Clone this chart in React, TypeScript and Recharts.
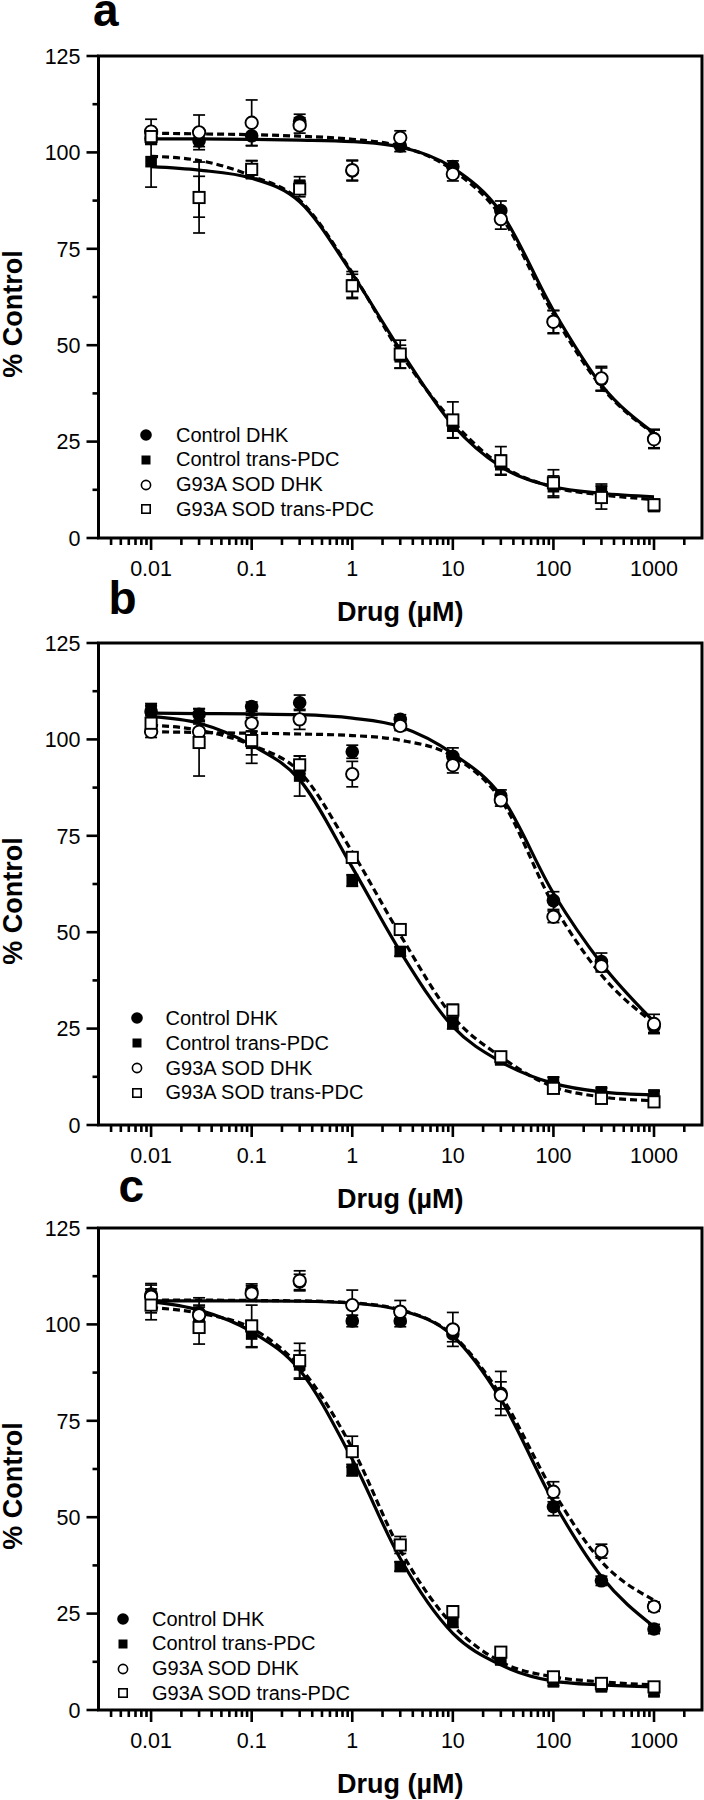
import React from 'react';
import {
  ComposedChart, Line, Scatter, XAxis, YAxis, ErrorBar, ReferenceArea, Legend,
} from 'recharts';

const FONT = '"Liberation Sans", Arial, Helvetica, sans-serif';

// concentrations (µM)
const DOSES = [0.01, 0.03, 0.1, 0.3, 1, 3, 10, 30, 100, 300, 1000];
const SERIES_NAMES = ['Control DHK', 'Control trans-PDC', 'G93A SOD DHK', 'G93A SOD trans-PDC'];

const X_MAJOR = [0.01, 0.1, 1, 10, 100, 1000];
const X_LABELS = ['0.01', '0.1', '1', '10', '100', '1000'];
const X_MINOR = [
  0.004, 0.005, 0.006, 0.007, 0.008, 0.009,
  0.02, 0.03, 0.04, 0.05, 0.06, 0.07, 0.08, 0.09,
  0.2, 0.3, 0.4, 0.5, 0.6, 0.7, 0.8, 0.9,
  2, 3, 4, 5, 6, 7, 8, 9,
  20, 30, 40, 50, 60, 70, 80, 90,
  200, 300, 400, 500, 600, 700, 800, 900,
  2000,
];
const Y_TICKS = [0, 12.5, 25, 37.5, 50, 62.5, 75, 87.5, 100, 112.5, 125];
const Y_MAJOR = [0, 25, 50, 75, 100, 125];

// ---- panel a ----
const A_CTRL_DHK = [103.6, 103.0, 104.3, 108.0, 95.2, 101.7, 96.3, 84.9, 56.0, 41.1, 25.8];
const A_CTRL_DHK_ERR = [1.5, 1.5, 2.6, 1.9, 2.6, 1.5, 1.5, 2.5, 3.0, 3.0, 2.4];
const A_CTRL_PDC = [97.6, 88.5, 95.5, 91.5, 65.6, 47.0, 29.0, 19.0, 13.3, 12.0, 8.2];
const A_CTRL_PDC_ERR = [6.6, 5.3, 2.3, 2.2, 3.5, 3.0, 3.0, 2.5, 2.8, 2.0, 1.3];
const A_SOD_DHK = [105.4, 105.2, 107.7, 107.0, 95.4, 103.8, 94.4, 82.7, 56.1, 41.4, 25.6];
const A_SOD_DHK_ERR = [3.2, 4.5, 5.9, 2.0, 2.6, 1.8, 1.8, 2.6, 2.9, 3.1, 2.4];
const A_SOD_PDC = [104.1, 88.3, 95.6, 90.5, 65.4, 47.7, 30.6, 20.0, 14.3, 10.5, 8.6];
const A_SOD_PDC_ERR = [2.0, 9.2, 2.3, 2.0, 3.0, 3.6, 4.7, 3.7, 3.4, 3.0, 1.5];
const A_FIT_CTRL_DHK = [103.5, 103.5, 103.4, 103.2, 102.8, 101.4, 96.0, 84.5, 59.0, 39.7, 27.2];
const A_FIT_SOD_DHK = [105.0, 104.8, 104.6, 104.2, 103.4, 101.6, 95.4, 83.5, 58.0, 39.2, 27.0];
const A_FIT_CTRL_PDC = [96.3, 95.4, 93.3, 87.2, 68.5, 48.8, 29.3, 18.5, 13.3, 11.6, 10.7];
const A_FIT_SOD_PDC = [99.0, 97.9, 93.9, 87.6, 68.8, 48.0, 30.2, 18.9, 13.2, 11.2, 10.0];

// ---- panel b ----
const B_CTRL_DHK = [107.2, 106.5, 108.5, 109.5, 96.8, 105.2, 95.6, 85.4, 58.2, 42.4, 25.5];
const B_CTRL_DHK_ERR = [1.5, 1.5, 1.2, 2.0, 1.7, 1.2, 2.2, 1.5, 2.3, 2.2, 1.5];
const B_CTRL_PDC = [107.8, 101.6, 99.0, 90.5, 63.4, 45.0, 26.4, 16.9, 11.2, 8.6, 7.8];
const B_CTRL_PDC_ERR = [1.5, 3.0, 3.0, 5.2, 1.5, 1.2, 1.5, 1.2, 1.2, 1.0, 1.0];
const B_SOD_DHK = [102.0, 102.0, 104.2, 105.2, 91.0, 103.5, 93.3, 84.2, 54.0, 41.2, 26.2];
const B_SOD_DHK_ERR = [1.5, 2.0, 2.0, 2.6, 3.3, 1.2, 2.0, 1.5, 1.5, 1.5, 2.5];
const B_SOD_PDC = [104.2, 99.2, 99.7, 93.4, 69.4, 50.7, 29.8, 17.7, 9.5, 6.9, 6.0];
const B_SOD_PDC_ERR = [1.5, 8.7, 5.9, 2.3, 1.2, 1.2, 1.5, 1.2, 1.2, 1.0, 1.2];
const B_FIT_CTRL_DHK = [106.8, 106.7, 106.6, 106.4, 105.5, 103.3, 96.3, 85.4, 60.1, 41.9, 26.8];
const B_FIT_SOD_DHK = [102.0, 101.8, 101.6, 101.4, 101.0, 99.8, 95.6, 84.4, 57.1, 38.9, 26.4];
const B_FIT_CTRL_PDC = [105.9, 104.2, 98.5, 89.5, 66.8, 45.0, 25.5, 16.4, 10.8, 8.6, 7.8];
const B_FIT_SOD_PDC = [103.7, 102.4, 98.5, 91.6, 70.8, 49.3, 28.1, 17.7, 9.9, 7.3, 6.3];

// ---- panel c ----
const C_CTRL_DHK = [107.9, 103.0, 108.7, 111.0, 100.9, 100.9, 97.5, 82.1, 52.7, 33.5, 21.0];
const C_CTRL_DHK_ERR = [2.3, 2.0, 1.8, 2.0, 1.5, 1.5, 2.0, 5.7, 2.3, 1.2, 1.2];
const C_CTRL_PDC = [105.9, 101.5, 97.5, 89.5, 62.2, 37.2, 22.9, 13.0, 7.3, 6.0, 4.7];
const C_CTRL_PDC_ERR = [4.7, 3.0, 3.5, 3.7, 1.5, 1.2, 1.5, 1.2, 1.0, 1.0, 1.0];
const C_SOD_DHK = [107.2, 102.4, 108.0, 111.3, 105.0, 103.3, 98.7, 81.6, 56.6, 41.2, 26.8];
const C_SOD_DHK_ERR = [2.0, 4.5, 2.0, 2.6, 3.9, 2.9, 4.4, 3.5, 2.6, 1.8, 1.2];
const C_SOD_PDC = [105.0, 99.2, 99.6, 90.6, 67.0, 42.8, 25.5, 15.0, 8.6, 6.9, 6.0];
const C_SOD_PDC_ERR = [2.0, 4.3, 5.4, 4.5, 4.0, 2.2, 1.5, 1.2, 1.0, 1.0, 1.0];
const C_FIT_CTRL_DHK = [106.1, 106.1, 106.1, 106.0, 105.5, 103.7, 97.0, 80.6, 54.0, 34.6, 21.6];
const C_FIT_SOD_DHK = [106.3, 106.3, 106.2, 106.1, 105.6, 103.8, 97.2, 81.6, 56.6, 38.5, 28.5];
const C_FIT_CTRL_PDC = [105.9, 103.7, 98.1, 88.2, 65.0, 39.3, 19.9, 11.7, 7.5, 6.5, 6.0];
const C_FIT_SOD_PDC = [104.4, 102.9, 99.0, 89.0, 67.9, 41.5, 22.0, 12.5, 8.6, 7.3, 6.5];

const pts = (vals: number[], errs: number[]) => DOSES.map((x, i) => ({ x, y: vals[i], err: errs[i] }));
const fit = (vals: number[]) => DOSES.map((x, i) => ({ x, y: vals[i] }));

const FilledCircle = (p: any) => <circle cx={p.cx} cy={p.cy} r={6.8} fill="#000" />;
const FilledSquare = (p: any) => <rect x={p.cx - 5.8} y={p.cy - 5.8} width={11.6} height={11.6} fill="#000" />;
const OpenCircle = (p: any) => <circle cx={p.cx} cy={p.cy} r={6.2} fill="#fff" stroke="#000" strokeWidth={1.9} />;
const OpenSquare = (p: any) => <rect x={p.cx - 5.6} y={p.cy - 5.6} width={11.2} height={11.2} fill="#fff" stroke="#000" strokeWidth={1.9} />;

const SHAPES = [FilledCircle, FilledSquare, OpenCircle, OpenSquare];

function XTick(props: any) {
  const { x, y, payload } = props;
  const idx = X_MAJOR.indexOf(payload.value);
  const major = idx >= 0;
  return (
    <g>
      <line x1={x} x2={x} y1={y} y2={y + (major ? 12 : 7)} stroke="#000" strokeWidth={2.6} />
      {major && (
        <text x={x} y={y + 38} textAnchor="middle" fontSize={21.5} fontFamily={FONT} fill="#000">
          {X_LABELS[idx]}
        </text>
      )}
    </g>
  );
}

function YTick(props: any) {
  const { x, y, payload } = props;
  const major = Y_MAJOR.includes(payload.value);
  return (
    <g>
      <line x1={x - (major ? 12 : 6)} x2={x} y1={y} y2={y} stroke="#000" strokeWidth={2.6} />
      {major && (
        <text x={x - 18} y={y + 7.7} textAnchor="end" fontSize={21.5} fontFamily={FONT} fill="#000">
          {payload.value}
        </text>
      )}
    </g>
  );
}

function LegendBox({ markerX, textX, top }: { markerX: number; textX: number; top: number }) {
  const ROW = 24.8;
  const icons = [
    <circle cx={7} cy={7} r={5.8} fill="#000" />,
    <rect x={2.5} y={2.5} width={9} height={9} fill="#000" />,
    <circle cx={7} cy={7} r={4.6} fill="#fff" stroke="#000" strokeWidth={1.6} />,
    <rect x={2.8} y={2.8} width={8.4} height={8.4} fill="#fff" stroke="#000" strokeWidth={1.6} />,
  ];
  return (
    <div style={{ position: 'absolute', left: 0, top: top - ROW / 2, width: 340 }}>
      {SERIES_NAMES.map((n, i) => (
        <div key={n} style={{ position: 'relative', height: ROW }}>
          <svg width={14} height={14} style={{ position: 'absolute', left: markerX - 7, top: ROW / 2 - 7 }}>
            {icons[i]}
          </svg>
          <span style={{
            position: 'absolute', left: textX, top: 0, lineHeight: `${ROW}px`,
            fontSize: 20, fontFamily: FONT, color: '#000', whiteSpace: 'nowrap',
          }}>{n}</span>
        </div>
      ))}
    </div>
  );
}

type PanelProps = {
  top: number;
  letter: string;
  letterX: number;
  letterBaseline: number;
  series: { data: number[]; err: number[] }[];
  fits: number[][];
  legend: { markerX: number; textX: number; top: number };
};

const W = 704;
const H = 628;
const PLOT_TOP = 56;
const PLOT_H = 482;
const PLOT_LEFT = 98.5;
const PLOT_RIGHT = 2;
const LETTER_SIZE = 46;
const LETTER_LINE = 20;

function Panel({ top, letter, letterX, letterBaseline, series, fits, legend }: PanelProps) {
  const plotBottom = PLOT_TOP + PLOT_H;
  const plotCenterX = (PLOT_LEFT + W - PLOT_RIGHT) / 2;
  const yLabelY = PLOT_TOP + PLOT_H / 2 + 17;
  // baseline position inside a tight line box (Liberation Sans ascent .905, descent .212)
  const letterTop = letterBaseline - ((LETTER_LINE - 1.117 * LETTER_SIZE) / 2 + 0.905 * LETTER_SIZE);
  return (
    <div style={{ position: 'absolute', left: 0, top, width: W, height: H }}>
      <ComposedChart
        width={W}
        height={H}
        margin={{ top: PLOT_TOP, right: PLOT_RIGHT, bottom: H - plotBottom - 40, left: PLOT_LEFT - 40 }}
        style={{ overflow: 'visible' }}
      >
        <XAxis
          type="number"
          dataKey="x"
          scale="log"
          domain={[0.003, 3000]}
          allowDataOverflow
          ticks={[...X_MAJOR, ...X_MINOR]}
          interval={0}
          tick={<XTick />}
          tickLine={false}
          axisLine={false}
          tickSize={0}
          tickMargin={0}
          height={40}
        />
        <YAxis
          type="number"
          dataKey="y"
          domain={[0, 125]}
          ticks={Y_TICKS}
          interval={0}
          tick={<YTick />}
          tickLine={false}
          axisLine={false}
          tickSize={0}
          tickMargin={0}
          width={40}
        />
        <ReferenceArea
          x1={0.003} x2={3000} y1={0} y2={125}
          fill="none" fillOpacity={0} stroke="#000" strokeWidth={3} ifOverflow="visible"
        />
        <Line data={fit(fits[0])} dataKey="y" type="monotone" stroke="#000" strokeWidth={3.2} dot={false} isAnimationActive={false} legendType="none" />
        <Line data={fit(fits[1])} dataKey="y" type="monotone" stroke="#000" strokeWidth={3.2} dot={false} isAnimationActive={false} legendType="none" />
        <Line data={fit(fits[2])} dataKey="y" type="monotone" stroke="#000" strokeWidth={3.2} strokeDasharray="7 4" dot={false} isAnimationActive={false} legendType="none" />
        <Line data={fit(fits[3])} dataKey="y" type="monotone" stroke="#000" strokeWidth={3.2} strokeDasharray="7 4" dot={false} isAnimationActive={false} legendType="none" />
        {series.map((s, i) => (
          <Scatter
            key={SERIES_NAMES[i]}
            name={SERIES_NAMES[i]}
            data={pts(s.data, s.err)}
            dataKey="y"
            shape={SHAPES[i]}
            isAnimationActive={false}
          >
            <ErrorBar dataKey="err" direction="y" width={6} stroke="#000" strokeWidth={1.7} />
          </Scatter>
        ))}
        <Legend
          content={() => <LegendBox {...legend} />}
          wrapperStyle={{ position: 'absolute', left: 0, top: 0, width: W, height: 0 }}
        />
      </ComposedChart>
      <div style={{
        position: 'absolute', left: letterX, top: letterTop, fontFamily: FONT, fontWeight: 'bold',
        fontSize: LETTER_SIZE, lineHeight: `${LETTER_LINE}px`, height: LETTER_LINE, color: '#000',
      }}>{letter}</div>
      <div style={{
        position: 'absolute', left: plotCenterX - 100, width: 200, top: plotBottom + 83 - 24,
        textAlign: 'center', fontFamily: FONT, fontWeight: 'bold', fontSize: 27, lineHeight: '30px', color: '#000',
      }}>Drug (µM)</div>
      <div style={{
        position: 'absolute', left: 13 - 100, top: yLabelY - 15, width: 200, height: 30,
        textAlign: 'center', fontFamily: FONT, fontWeight: 'bold', fontSize: 27, lineHeight: '30px',
        transform: 'rotate(-90deg)', color: '#000',
      }}>% Control</div>
    </div>
  );
}

export default function App() {
  return (
    <div style={{ position: 'absolute', left: 0, top: 0, width: 704, height: 1800, background: '#fff' }}>
      <Panel
        top={0}
        letter="a"
        letterX={93}
        letterBaseline={26}
        series={[
          { data: A_CTRL_DHK, err: A_CTRL_DHK_ERR },
          { data: A_CTRL_PDC, err: A_CTRL_PDC_ERR },
          { data: A_SOD_DHK, err: A_SOD_DHK_ERR },
          { data: A_SOD_PDC, err: A_SOD_PDC_ERR },
        ]}
        fits={[A_FIT_CTRL_DHK, A_FIT_CTRL_PDC, A_FIT_SOD_DHK, A_FIT_SOD_PDC]}
        legend={{ markerX: 146, textX: 176, top: 435 }}
      />
      <Panel
        top={587}
        letter="b"
        letterX={108.5}
        letterBaseline={27.4}
        series={[
          { data: B_CTRL_DHK, err: B_CTRL_DHK_ERR },
          { data: B_CTRL_PDC, err: B_CTRL_PDC_ERR },
          { data: B_SOD_DHK, err: B_SOD_DHK_ERR },
          { data: B_SOD_PDC, err: B_SOD_PDC_ERR },
        ]}
        fits={[B_FIT_CTRL_DHK, B_FIT_CTRL_PDC, B_FIT_SOD_DHK, B_FIT_SOD_PDC]}
        legend={{ markerX: 136.5, textX: 165.5, top: 431.5 }}
      />
      <Panel
        top={1172}
        letter="c"
        letterX={118.5}
        letterBaseline={29.8}
        series={[
          { data: C_CTRL_DHK, err: C_CTRL_DHK_ERR },
          { data: C_CTRL_PDC, err: C_CTRL_PDC_ERR },
          { data: C_SOD_DHK, err: C_SOD_DHK_ERR },
          { data: C_SOD_PDC, err: C_SOD_PDC_ERR },
        ]}
        fits={[C_FIT_CTRL_DHK, C_FIT_CTRL_PDC, C_FIT_SOD_DHK, C_FIT_SOD_PDC]}
        legend={{ markerX: 122.5, textX: 152, top: 447 }}
      />
    </div>
  );
}
